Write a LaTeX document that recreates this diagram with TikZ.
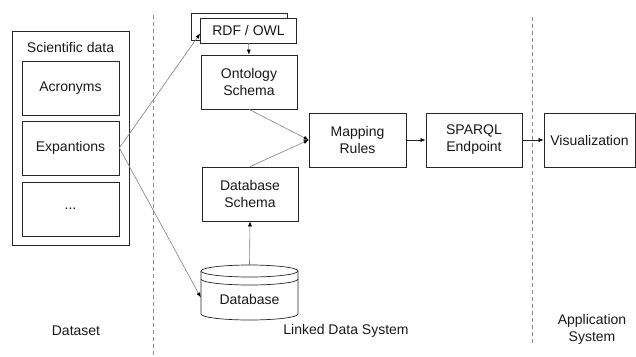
\documentclass[tikz,border=0pt]{standalone}
\usepackage{fontspec}
\setmainfont{Liberation Sans}
\usetikzlibrary{arrows.meta}
\begin{document}
\begin{tikzpicture}[x=1pt,y=-1pt,
  every node/.style={font=\fontsize{14}{17}\selectfont, text=black!90},
  box/.style={draw=black!85, line width=0.7pt, inner sep=0pt, align=center,
              minimum width=96pt, minimum height=54pt, fill=white},
  conn/.style={draw=black!50, line width=0.6pt, -{Latex[length=5pt,width=4pt,black]}},
  hconn/.style={draw=black!85, line width=0.6pt, -{Latex[length=5pt,width=4pt,black]}},
  sep/.style={draw=black!45, line width=0.6pt, dash pattern=on 4pt off 3pt}]
\useasboundingbox (0,0) rectangle (636,356);
% separators
\coordinate (s1t) at (153,15);
\coordinate (s1b) at (153,356);
\coordinate (s2t) at (532,17);
\coordinate (s2b) at (532,345);
\draw[sep] (s1t) -- (s1b);
\draw[sep] (s2t) -- (s2b);
% dataset
\node[box, minimum width=117pt, minimum height=214pt] (sci) at (70.5,138) {};
\node (scit) at (70.5,47) {Scientific data};
\node[box, minimum width=97pt] (acr) at (70.5,88) {Acronyms};
\node[box, minimum width=97pt] (exp) at (70.5,148) {Expantions};
\node[box, minimum width=97pt] (dots) at (70.5,209) {...};
% RDF / OWL
\node[box, minimum height=27pt] (rdfback) at (239.5,26.5) {};
\node[box, minimum height=25pt] (rdf) at (248.5,30.5) {RDF / OWL};
\node[box] (ont) at (249,82) {Ontology\\Schema};
\node[box] (dbs) at (250,194) {Database\\Schema};
% database cylinder
\node[minimum width=97pt, minimum height=55pt, inner sep=0pt] (db) at (249.5,292.5) {};
\draw[black!85, line width=0.7pt, fill=white]
  (201,271) -- (201,314) arc[start angle=180, end angle=360, x radius=48.5pt, y radius=6pt]
  -- (298,271);
\draw[black!85, line width=0.7pt, fill=white] (249.5,271) ellipse[x radius=48.5pt, y radius=6pt];
\draw[black!85, line width=0.7pt] (201,279) arc[start angle=180, end angle=360, x radius=48.5pt, y radius=6pt];
\node (dbt) at (249.5,299) {Database};
% right part
\node[box, minimum width=97pt] (map) at (357.5,140) {Mapping\\Rules};
\node[box] (sparql) at (474,140) {SPARQL\\Endpoint};
\node[box, minimum width=91pt] (vis) at (589.5,140) {Visualization};
% connectors
\draw[conn] (exp.east) -- ([yshift=-3pt]rdf.west);
\draw[conn] (exp.east) -- ([yshift=-5pt]db.west);
\draw[conn] (rdf.south) -- (ont.north);
\draw[conn] (db.north) -- (dbs.south);
\draw[conn] (ont.south) -- (map.west);
\draw[conn] (dbs.north) -- (map.west);
\draw[hconn] (map.east) -- (sparql.west);
\draw[hconn] (sparql.east) -- (vis.west);
% labels
\node (l1) at (76,331) {Dataset};
\node (l2) at (346,331) {Linked Data System};
\node[align=center] (l3) at (592,329) {Application\\System};
\end{tikzpicture}
\end{document}
